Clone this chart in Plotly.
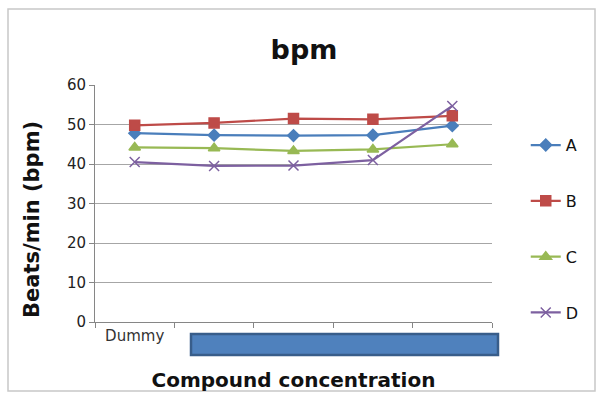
import plotly.graph_objects as go

categories = ["Dummy", "C1", "C2", "C3", "C4"]
tick_labels = ["Dummy", "", "", "", ""]
series_names = ["A", "B", "C", "D"]
A = [47.8, 47.3, 47.2, 47.3, 49.7]
B = [49.8, 50.4, 51.5, 51.3, 52.2]
C = [44.2, 44.0, 43.3, 43.7, 45.0]
D = [40.5, 39.5, 39.6, 41.0, 54.7]
values = [A, B, C, D]
colors = ["#4A7EBB", "#BE4B48", "#98B954", "#7D60A0"]
symbols = ["diamond", "square", "triangle-up", "x-thin"]
sizes = [9, 10, 10, 10]

FONT = "DejaVu Sans"
fig = go.Figure()
for i, (name, vals) in enumerate(zip(series_names, values)):
    fig.add_trace(go.Scatter(
        x=categories, y=vals, name=name, mode="lines+markers",
        legendgroup=name,
        line=dict(color=colors[i], width=2.2),
        marker=dict(symbol=symbols[i], size=sizes[i], color=colors[i],
                    line=dict(color=colors[i], width=1.5)),
    ))

fig.update_layout(
    width=596, height=398,
    margin=dict(l=95, r=104, t=85, b=76),
    paper_bgcolor="white", plot_bgcolor="white",
    font=dict(family=FONT, size=14, color="#222222"),
    title=dict(text="<b>bpm</b>", x=304 / 596, xanchor="center",
               y=1 - 50 / 398, yanchor="middle",
               font=dict(family=FONT, size=27, color="#111111")),
    showlegend=True,
    legend=dict(x=1.085, xanchor="left", y=0.818, yanchor="top",
                tracegroupgap=32, font=dict(size=16, color="#111111"),
                bgcolor="rgba(0,0,0,0)"),
    xaxis=dict(
        type="category", range=[-0.5, 4.5],
        tickmode="array", tickvals=categories, ticktext=tick_labels,
        tickson="boundaries", ticks="outside", ticklen=5, tickcolor="#868686",
        showline=True, linecolor="#868686", linewidth=1,
        showgrid=False, tickfont=dict(size=15, color="#333333"),
        title=dict(text="<b>Compound concentration</b>",
                   font=dict(size=20, color="#111111"), standoff=28),
    ),
    yaxis=dict(
        range=[0, 60], dtick=10, ticks="outside", ticklen=5, tickcolor="#868686",
        showline=True, linecolor="#868686", linewidth=1,
        showgrid=True, gridcolor="#A6A6A6", gridwidth=1,
        zeroline=False, tickfont=dict(size=15, color="#222222"),
    ),
)

# y-axis title (placed lower, as in the reference)
fig.add_annotation(text="<b>Beats/min (bpm)</b>", textangle=-90,
                   xref="paper", yref="paper",
                   x=(32 - 95) / 397, y=(322 - 220) / 237,
                   xanchor="center", yanchor="middle", showarrow=False,
                   font=dict(family=FONT, size=21, color="#111111"))

# blue bar covering the concentration labels
fig.add_shape(type="rect", xref="paper", yref="paper",
              x0=(191 - 95) / 397, x1=(498 - 95) / 397,
              y0=-(355 - 322) / 237, y1=-(334 - 322) / 237,
              fillcolor="#4F81BD", line=dict(color="#385D8A", width=2.5),
              layer="above")
# chart border
fig.add_shape(type="rect", xref="paper", yref="paper",
              x0=-(95 - 8) / 397, x1=(595 - 95) / 397,
              y0=-(391 - 322) / 237, y1=(322 - 9) / 237,
              line=dict(color="#C8C8C8", width=1.5), fillcolor="rgba(0,0,0,0)")

fig.write_html("out.html")
